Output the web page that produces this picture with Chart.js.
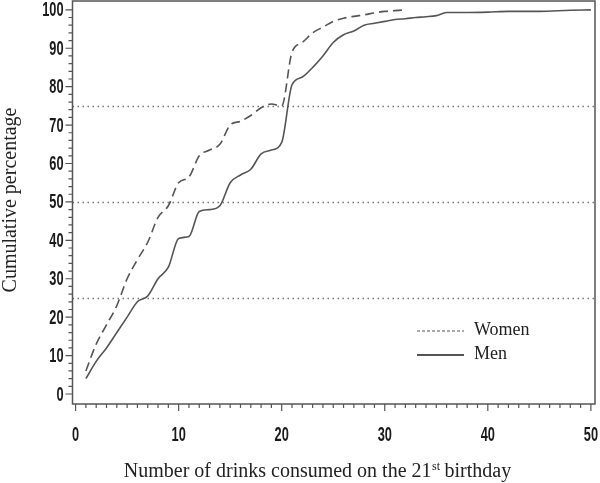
<!DOCTYPE html>
<html lang="en">
<head>
<meta charset="UTF-8">
<title>Cumulative percentage of drinks</title>
<style>
    html, body { margin: 0; padding: 0; background: #fff; }
    .chart-con { width: 600px; height: 483px; }
</style>
</head>
<body>
<div class="chart-con"><canvas id="cum"></canvas></div>
<script src="https://cdn.jsdelivr.net/npm/chart.js"></script>
<script>
// women: number of drinks -> cumulative %
const drinksWomen = [1, 2, 3, 4, 5, 6, 7, 8, 9, 10, 11, 12, 13, 14, 15, 16, 17, 18, 19, 20,
    21, 22, 23, 24, 25, 26, 27, 28, 29, 30, 31, 32];
const women = [6, 13, 18, 23, 30, 35, 39.5, 46, 49, 55, 56.5, 62, 63.5, 65, 70, 71, 72.5, 74.5, 75.5, 75,
    89, 91.5, 94, 95.5, 97, 97.8, 98.3, 98.7, 99.2, 99.6, 99.8, 100];

// men
const drinksMen = [1, 2, 3, 4, 5, 6, 7, 8, 9, 10, 11, 12, 13, 14, 15, 16, 17, 18, 19, 20,
    21, 22, 23, 24, 25, 26, 27, 28, 29, 30, 31, 32, 33, 34, 35, 36, 38, 40, 42, 45, 48, 50];
const men = [4, 8.5, 12, 16, 20, 24, 25.5, 30, 33, 40.5, 41, 47.5, 48, 49, 55, 57, 58.5, 62.5, 63.5, 65.5,
    80.5, 82.5, 85, 88, 91.5, 93.5, 94.5, 96, 96.5, 97, 97.5, 97.7, 98, 98.2, 98.5, 99.3, 99.3, 99.4, 99.6, 99.6, 99.9, 100];

const refLevels = [25, 50, 75];   // dotted quartile lines
const xTicks = [0, 10, 20, 30, 40, 50];
const yTicks = [0, 10, 20, 30, 40, 50, 60, 70, 80, 90, 100];
const xMinorStep = 1;
const yMinorStep = 2;

const INK = '#555';
const serif = "'Liberation Serif', 'Times New Roman', serif";
const sans = "'Liberation Sans', Arial, sans-serif";

function noPad(s) {
    s.paddingLeft = 0;
    s.paddingRight = 0;
    s.paddingTop = 0;
    s.paddingBottom = 0;
}

// tick labels in the original are a tall, narrow sans
function narrowText(ctx, text, px, py, align) {
    ctx.save();
    ctx.translate(px, py);
    ctx.scale(0.64, 1);
    ctx.textAlign = align;
    ctx.textBaseline = 'middle';
    ctx.fillText(text, 0, 0);
    ctx.restore();
}

const extras = {
    id: 'extras',
    beforeDatasetsDraw(chart) {
        const { ctx, chartArea: a, scales: { y } } = chart;
        ctx.save();
        ctx.strokeStyle = '#777';
        ctx.lineWidth = 1.3;
        ctx.setLineDash([1.5, 3.5]);
        refLevels.forEach(v => {
            const py = Math.round(y.getPixelForValue(v)) + 0.5;
            ctx.beginPath();
            ctx.moveTo(a.left, py);
            ctx.lineTo(a.right, py);
            ctx.stroke();
        });
        ctx.restore();
    },
    afterDraw(chart) {
        const { ctx, chartArea: a, scales: { x, y } } = chart;
        ctx.save();
        // frame
        ctx.strokeStyle = INK;
        ctx.lineWidth = 1.5;
        ctx.strokeRect(a.left, a.top, a.right - a.left, a.bottom - a.top);

        // major + minor tick marks
        ctx.lineWidth = 1.2;
        ctx.beginPath();
        for (let v = xTicks[0]; v <= xTicks[xTicks.length - 1]; v += xMinorStep) {
            const px = x.getPixelForValue(v);
            const len = xTicks.includes(v) ? 7 : 4;
            ctx.moveTo(px, a.bottom);
            ctx.lineTo(px, a.bottom + len);
        }
        for (let v = yTicks[0]; v <= yTicks[yTicks.length - 1]; v += yMinorStep) {
            const py = y.getPixelForValue(v);
            const len = yTicks.includes(v) ? 7 : 4;
            ctx.moveTo(a.left, py);
            ctx.lineTo(a.left - len, py);
        }
        ctx.stroke();

        // tick labels
        ctx.fillStyle = '#1a1a1a';
        ctx.font = 'bold 20px ' + sans;
        x.ticks.forEach(t => narrowText(ctx, String(t.value), x.getPixelForValue(t.value), 435, 'center'));
        y.ticks.forEach(t => narrowText(ctx, String(t.value), a.left - 9, y.getPixelForValue(t.value) + 1, 'right'));

        // legend inside plot
        ctx.fillStyle = '#222';
        ctx.font = '18px ' + serif;
        ctx.textBaseline = 'middle';
        ctx.textAlign = 'left';
        const legendRows = [
            { ds: chart.data.datasets[0], y: 331, dash: [3, 2] },
            { ds: chart.data.datasets[1], y: 355, dash: [] }
        ];
        legendRows.forEach(r => {
            ctx.strokeStyle = INK;
            ctx.lineWidth = r.dash.length ? 1.2 : 1.8;
            ctx.setLineDash(r.dash);
            ctx.beginPath();
            ctx.moveTo(417, r.y);
            ctx.lineTo(464, r.y);
            ctx.stroke();
            ctx.fillText(r.ds.label, 474, r.y - 1);
        });
        ctx.setLineDash([]);

        // x title with superscript
        const t1 = 'Number of drinks consumed on the 21';
        const sup = 'st';
        const t2 = ' birthday';
        ctx.font = '20px ' + serif;
        const w1 = ctx.measureText(t1).width;
        const w3 = ctx.measureText(t2).width;
        ctx.font = '12px ' + serif;
        const w2 = ctx.measureText(sup).width;
        const sx = 317.5 - (w1 + w2 + w3) / 2;
        const base = 477;
        ctx.textBaseline = 'alphabetic';
        ctx.font = '20px ' + serif;
        ctx.fillText(t1, sx, base);
        ctx.font = '12px ' + serif;
        ctx.fillText(sup, sx + w1 + 0.5, base - 7);
        ctx.font = '20px ' + serif;
        ctx.fillText(t2, sx + w1 + w2, base);

        // y title
        ctx.save();
        ctx.translate(11, 200);
        ctx.rotate(-Math.PI / 2);
        ctx.textAlign = 'center';
        ctx.textBaseline = 'middle';
        ctx.fillText('Cumulative percentage', 0, 0);
        ctx.restore();

        ctx.restore();
    }
};

const ctx = document.getElementById('cum');
new Chart(ctx, {
    type: 'line',
    data: {
        datasets: [
            {
                label: 'Women',
                data: drinksWomen.map((d, i) => ({ x: d, y: women[i] })),
                borderColor: INK,
                borderWidth: 1.6,
                borderDash: [9, 5],
                pointRadius: 0,
                cubicInterpolationMode: 'monotone'
            },
            {
                label: 'Men',
                data: drinksMen.map((d, i) => ({ x: d, y: men[i] })),
                borderColor: INK,
                borderWidth: 1.6,
                pointRadius: 0,
                cubicInterpolationMode: 'monotone'
            }
        ]
    },
    options: {
        responsive: true,
        maintainAspectRatio: false,
        animation: false,
        layout: { padding: { top: 1, right: 5, left: 0, bottom: 0 } },
        plugins: {
            legend: { display: false },
            tooltip: { enabled: false }
        },
        scales: {
            x: {
                type: 'linear',
                min: -0.3,
                max: 50.4,
                afterBuildTicks: s => { s.ticks = xTicks.map(v => ({ value: v })); },
                afterFit: s => { s.height = 79; noPad(s); },
                grid: { display: false, drawTicks: false },
                border: { display: false },
                ticks: { display: false }
            },
            y: {
                min: -2.6,
                max: 102.3,
                afterBuildTicks: s => { s.ticks = yTicks.map(v => ({ value: v })); },
                afterFit: s => { s.width = 72.5; noPad(s); },
                grid: { display: false, drawTicks: false },
                border: { display: false },
                ticks: { display: false }
            }
        }
    },
    plugins: [extras]
});
</script>
</body>
</html>
